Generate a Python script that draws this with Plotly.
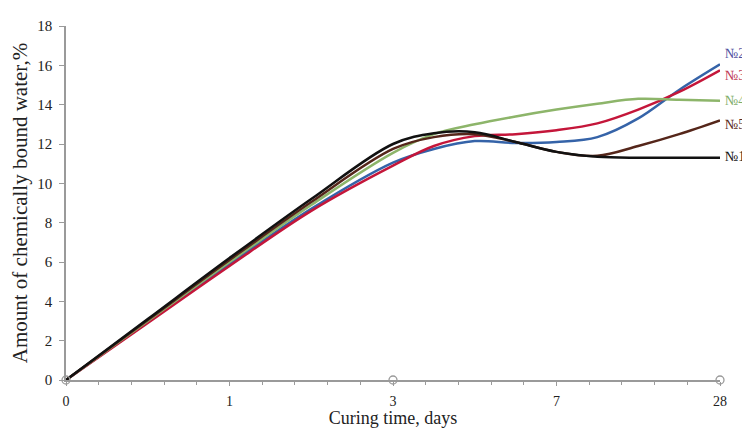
import plotly.graph_objects as go

# category positions (equal spacing) and their labels
x_pos = [0, 0.5, 1, 1.5, 2, 2.25, 2.5, 2.75, 3, 3.25, 3.5, 3.75, 4]
tick_vals = [0, 1, 2, 3, 4]
tick_text = ["0", "1", "3", "7", "28"]

s1 = [0, 3.1, 6.2, 9.2, 12.0, 12.55, 12.6, 12.1, 11.6, 11.35, 11.3, 11.3, 11.3]
s2 = [0, 2.95, 5.9, 8.7, 11.05, 11.75, 12.15, 12.05, 12.1, 12.35, 13.3, 14.75, 16.05]
s3 = [0, 2.9, 5.8, 8.6, 10.9, 11.9, 12.4, 12.5, 12.7, 13.05, 13.75, 14.65, 15.75]
s4 = [0, 3.0, 6.0, 8.9, 11.55, 12.5, 13.0, 13.4, 13.75, 14.05, 14.3, 14.25, 14.2]
s5 = [0, 3.05, 6.1, 9.05, 11.75, 12.35, 12.5, 12.1, 11.6, 11.4, 11.9, 12.5, 13.2]

series = [
    ("№2", s2, "#3563a8", "#5050a0", 0.55),
    ("№3", s3, "#c4163a", "#c03a55", -0.25),
    ("№4", s4, "#8db56a", "#7fae6a", 0.0),
    ("№5", s5, "#55261a", "#5a2a20", -0.2),
    ("№1", s1, "#111111", "#111111", 0.05),
]

fig = go.Figure()
for name, ys, col, lcol, off in series:
    fig.add_trace(go.Scatter(x=x_pos, y=ys, mode="lines", name=name,
                             line=dict(color=col, width=2.5, shape="spline", smoothing=1.0),
                             showlegend=False))

# open circle markers on x axis at 0, 3, 28
fig.add_trace(go.Scatter(x=[0, 2, 4], y=[0, 0, 0], mode="markers",
                         marker=dict(symbol="circle-open", size=8, color="#9a9a9a",
                                     line=dict(width=1.3, color="#9a9a9a")),
                         cliponaxis=False, showlegend=False, hoverinfo="skip"))

for name, ys, col, lcol, off in series:
    fig.add_annotation(x=4, y=ys[-1] + off, text=name, showarrow=False,
                       xanchor="left", yanchor="middle", xshift=3,
                       font=dict(family="Liberation Serif", size=14, color=lcol))

font_fam = "Liberation Serif"
fig.update_layout(
    width=742, height=420,
    margin=dict(l=58, r=30, t=18, b=48, autoexpand=False),
    paper_bgcolor="white", plot_bgcolor="white",
    font=dict(family=font_fam, color="#222222"),
    xaxis=dict(range=[0, 4], tickmode="array", tickvals=tick_vals, ticktext=tick_text,
               automargin=False,
               showgrid=False, zeroline=False, showline=True, linecolor="#9a9a9a", linewidth=1.5,
               ticks="outside", ticklen=4, tickcolor="#9a9a9a", tickwidth=1,
               minor=dict(dtick=0.2, ticks="outside", ticklen=3, tickcolor="#9a9a9a"),
               tickfont=dict(family=font_fam, size=14, color="#222222"),
               ticklabelstandoff=3,
               title=dict(text="Curing time, days", font=dict(family=font_fam, size=18, color="#222222"),
                          standoff=6)),
    yaxis=dict(range=[0, 18], tickmode="linear", tick0=0, dtick=2,
               automargin=False,
               showgrid=False, zeroline=False, showline=True, linecolor="#9a9a9a", linewidth=1.5,
               ticks="outside", ticklen=5, tickcolor="#9a9a9a",
               tickfont=dict(family=font_fam, size=15, color="#222222"),
               ticklabelstandoff=4,
               title=dict(text="Amount of chemically bound water,%",
                          font=dict(family=font_fam, size=21, color="#222222"), standoff=6)),
)

fig.write_html("out.html")
